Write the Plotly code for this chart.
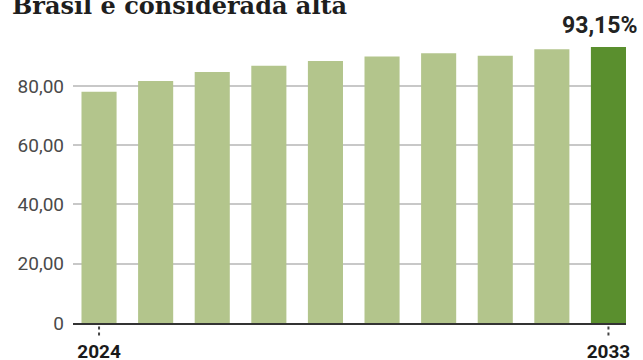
import plotly.graph_objects as go

# Série anual (em %)
anos = ["2024", "2025", "2026", "2027", "2028", "2029", "2030", "2031", "2032", "2033"]
valores = [78.0, 81.7, 84.7, 86.8, 88.4, 89.9, 91.0, 90.2, 92.4, 93.15]

y_ticks = [0, 20, 40, 60, 80]
y_tick_text = ["0", "20,00", "40,00", "60,00", "80,00"]
x_tick_anos = [anos[0], anos[-1]]

titulo = "Brasil é considerada alta"

COR_CLARA = "#b3c58c"
COR_DESTAQUE = "#5a8f2e"
cores = [COR_CLARA] * (len(anos) - 1) + [COR_DESTAQUE]


def fmt_pct(v):
    return f"{v:.2f}".replace(".", ",") + "%"


fig = go.Figure(
    go.Bar(
        x=anos,
        y=valores,
        marker=dict(color=cores, line=dict(width=0)),
        hoverinfo="skip",
    )
)

# Rótulo de valor do último ano (eixo categórico: posição pelo índice)
i_ult = len(anos) - 1
fig.add_annotation(
    x=i_ult, y=valores[i_ult], xref="x", yref="y",
    text=f"<b>{fmt_pct(valores[i_ult])}</b>",
    showarrow=False, yanchor="bottom", xanchor="center",
    xshift=-9, yshift=6,
    font=dict(family="Roboto", size=23, color="#222222"),
)

# Título
fig.add_annotation(
    x=0, xref="paper", xanchor="left", xshift=-63,
    y=1.122, yref="paper", yanchor="middle",
    text=f"<b>{titulo}</b>", showarrow=False,
    font=dict(family="DejaVu Serif", size=24, color="#1e1e1e"),
)

# Marcas pontilhadas abaixo dos anos rotulados
for a in x_tick_anos:
    idx = anos.index(a)
    fig.add_shape(
        type="line", xref="x", yref="paper",
        x0=idx, x1=idx, y0=-0.012, y1=-0.045,
        line=dict(color="#444444", width=2, dash="dot"),
    )

fig.update_layout(
    width=643, height=360,
    margin=dict(l=73, r=17, t=40, b=37),
    paper_bgcolor="white", plot_bgcolor="white",
    bargap=0.38,
    showlegend=False,
    xaxis=dict(
        type="category", automargin=False,
        range=[-0.46, 9.31],
        tickmode="array", tickvals=x_tick_anos, ticktext=x_tick_anos,
        tickfont=dict(family="Roboto", size=19, color="#1a1a1a", weight="bold"),
        ticks="", ticklabelstandoff=10,
        showline=True, linecolor="#333333", linewidth=2,
        showgrid=False, zeroline=False,
    ),
    yaxis=dict(
        automargin=False,
        range=[0, 95.5],
        tickmode="array", tickvals=y_ticks, ticktext=y_tick_text,
        tickfont=dict(family="Roboto", size=19, color="#4a4a4a"),
        ticks="", ticklabelstandoff=8,
        showgrid=True, gridcolor="#c8c8c8", gridwidth=1.5,
        zeroline=False, showline=False,
    ),
)

fig.write_html("out.html")
